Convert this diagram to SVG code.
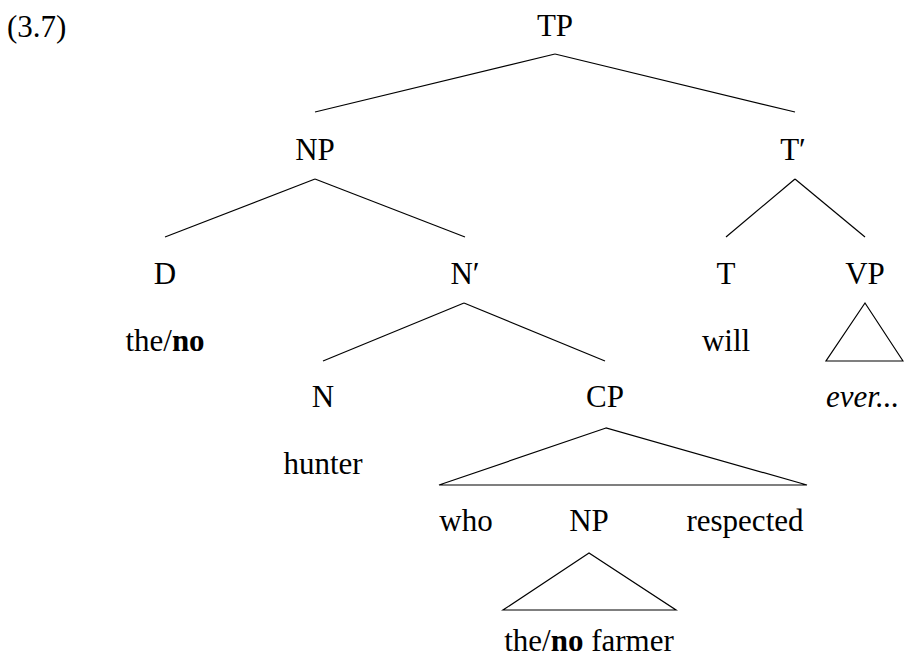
<svg xmlns="http://www.w3.org/2000/svg" width="904" height="659" viewBox="0 0 904 659">
<style>
text{font-family:"Liberation Serif","Times New Roman",serif;font-size:31px;fill:#000;text-anchor:middle}
.l{text-anchor:start}
.b{font-weight:bold}
.i{font-style:italic}
line,polygon{stroke:#000;stroke-width:1.2;fill:none}
</style>
<rect width="904" height="659" fill="#fff"/>
<text class="l" x="7" y="37">(3.7)</text>
<g id="TP"><text x="555" y="36">TP</text></g>
<g id="NP1"><text x="315" y="160">NP</text></g>
<g id="Tbar"><text x="793" y="160">T′</text></g>
<g id="D"><text x="165" y="284">D</text></g>
<g id="the_no"><text x="165" y="351">the/<tspan class="b">no</tspan></text></g>
<g id="Nbar"><text x="465" y="284">N′</text></g>
<g id="T"><text x="726" y="284">T</text></g>
<g id="will"><text x="726" y="351">will</text></g>
<g id="VP"><text x="865" y="284">VP</text></g>
<g id="ever"><text class="l i" x="826" y="407">ever...</text></g>
<g id="N"><text x="323" y="407">N</text></g>
<g id="hunter"><text x="323" y="474">hunter</text></g>
<g id="CP"><text x="605" y="407">CP</text></g>
<g id="who"><text x="466" y="531">who</text></g>
<g id="NP2"><text x="589" y="531">NP</text></g>
<g id="respected"><text x="745" y="531">respected</text></g>
<g id="the_no_farmer"><text x="589" y="651">the/<tspan class="b">no</tspan> farmer</text></g>
<g id="connectors">
<line x1="555" y1="54" x2="315" y2="112"/>
<line x1="555" y1="54" x2="795" y2="112"/>
<line x1="315" y1="179" x2="165" y2="237"/>
<line x1="315" y1="179" x2="465" y2="237"/>
<line x1="795" y1="179" x2="726" y2="237"/>
<line x1="795" y1="179" x2="865" y2="237"/>
<line x1="464" y1="303" x2="323" y2="361"/>
<line x1="464" y1="303" x2="605" y2="361"/>
<polygon points="865,303 826,361 903,361"/>
<polygon points="606,428 439,485 807,485"/>
<polygon points="589,553 503,610 676,610"/>
</g>
</svg>
